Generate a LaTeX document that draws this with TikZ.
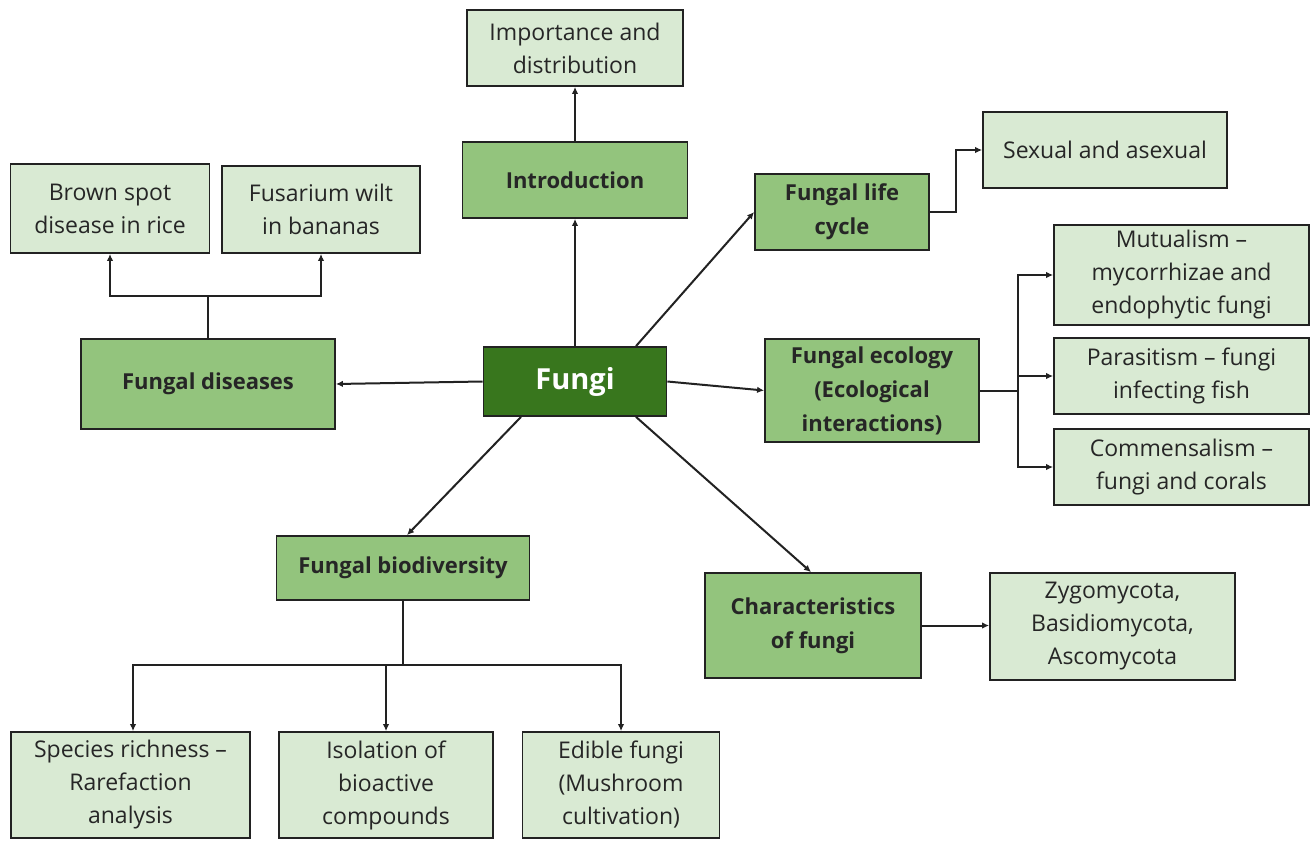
\documentclass[tikz,border=0pt]{standalone}
\usepackage{fontspec}
\setmainfont{Open Sans}
\usetikzlibrary{arrows.meta,calc}
\definecolor{lightg}{HTML}{D9EAD3}
\definecolor{midg}{HTML}{93C47D}
\definecolor{darkg}{HTML}{38761D}
\definecolor{edge}{HTML}{222222}
\tikzset{
  boxbase/.style={draw=edge, line width=1.8pt, align=center, inner sep=0pt, font=\fontsize{23}{33}\selectfont, text=black!85},
  lbox/.style={boxbase, fill=lightg},
  mbox/.style={boxbase, fill=midg, font=\fontsize{22}{34}\selectfont\bfseries},
  dbox/.style={boxbase, fill=darkg, text=white, font=\fontsize{29}{38}\selectfont\bfseries},
  conn/.style={draw=edge, line width=2pt},
  arr/.style={conn, -{Latex[length=7pt,width=6.5pt]}},
}
\begin{document}
\begin{tikzpicture}[x=1pt,y=-1pt]
\useasboundingbox[fill=white] (0,0) rectangle (1316,840);
% nodes
\node[lbox, minimum width=216pt, minimum height=76pt] (imp) at (575,48) {Importance and\\distribution};
\node[mbox, minimum width=225pt, minimum height=76pt] (intro) at (575,180) {Introduction};
\node[dbox, minimum width=183pt, minimum height=69pt] (fungi) at (575,381.5) {Fungi};
\node[lbox, minimum width=244pt, minimum height=76pt] (sex) at (1105,150) {Sexual and asexual};
\node[mbox, minimum width=174pt, minimum height=76pt] (life) at (842,212) {Fungal life\\cycle};
\node[lbox, minimum width=199pt, minimum height=89pt] (brown) at (110,208.5) {Brown spot\\disease in rice};
\node[lbox, minimum width=198pt, minimum height=87pt] (fus) at (321,209.5) {Fusarium wilt\\in bananas};
\node[mbox, minimum width=254pt, minimum height=90pt] (dis) at (208,384) {Fungal diseases};
\node[mbox, minimum width=214pt, minimum height=103pt] (eco) at (872,390.5) {Fungal ecology\\(Ecological\\interactions)};
\node[lbox, minimum width=255pt, minimum height=100pt] (mut) at (1181.5,275) {Mutualism --\\mycorrhizae and\\endophytic fungi};
\node[lbox, minimum width=255pt, minimum height=76pt] (par) at (1181.5,376) {Parasitism -- fungi\\infecting fish};
\node[lbox, minimum width=255pt, minimum height=76pt] (com) at (1181.5,467) {Commensalism --\\fungi and corals};
\node[mbox, minimum width=253pt, minimum height=64pt] (bio) at (403,568) {Fungal biodiversity};
\node[mbox, minimum width=216pt, minimum height=105pt] (char) at (813,625.5) {Characteristics\\of fungi};
\node[lbox, minimum width=245pt, minimum height=107pt] (zyg) at (1112.5,626.5) {Zygomycota,\\Basidiomycota,\\Ascomycota};
\node[lbox, minimum width=239pt, minimum height=106pt] (spec) at (130.5,785) {Species richness --\\Rarefaction\\analysis};
\node[lbox, minimum width=214pt, minimum height=106pt] (iso) at (386,785) {Isolation of\\bioactive\\compounds};
\node[lbox, minimum width=197pt, minimum height=106pt] (edi) at (621,785) {Edible fungi\\(Mushroom\\cultivation)};
% connectors
\draw[arr] (fungi.north) -- (intro.south);
\draw[arr] (intro.north) -- (imp.south);
\draw[arr] (fungi.west) -- (dis.east);
\draw[arr] (fungi.east) -- (eco.west);
\draw[arr] ([xshift=61pt]fungi.north) -- (life.west);
\draw[arr] ([xshift=-54pt]fungi.south) -- ([xshift=4pt]bio.north);
\draw[arr] ([xshift=61pt]fungi.south) -- ([xshift=-2pt]char.north);
% diseases branch
\draw[conn] (dis.north) -- ++(0,-42) coordinate (dj);
\draw[arr] (dj) -| (brown.south);
\draw[arr] (dj) -| (fus.south);
% life cycle
\draw[arr] (life.east) -- ++(26,0) coordinate (lj) |- (sex.west);
% ecology
\draw[conn] (eco.east) -- ++(38,0) coordinate (ej);
\draw[arr] (ej) |- (mut.west);
\draw[arr] (ej) |- (par.west);
\draw[arr] (ej) |- (com.west);
% characteristics
\draw[arr] (char.east) -- (char.east -| zyg.west);
% biodiversity
\draw[conn] (bio.south) -- ++(0,64) coordinate (bj);
\draw[arr] (bj) -| ([xshift=2.5pt]spec.north);
\draw[arr] (bj) -| (iso.north);
\draw[arr] (bj) -| (edi.north);
\end{tikzpicture}
\end{document}
